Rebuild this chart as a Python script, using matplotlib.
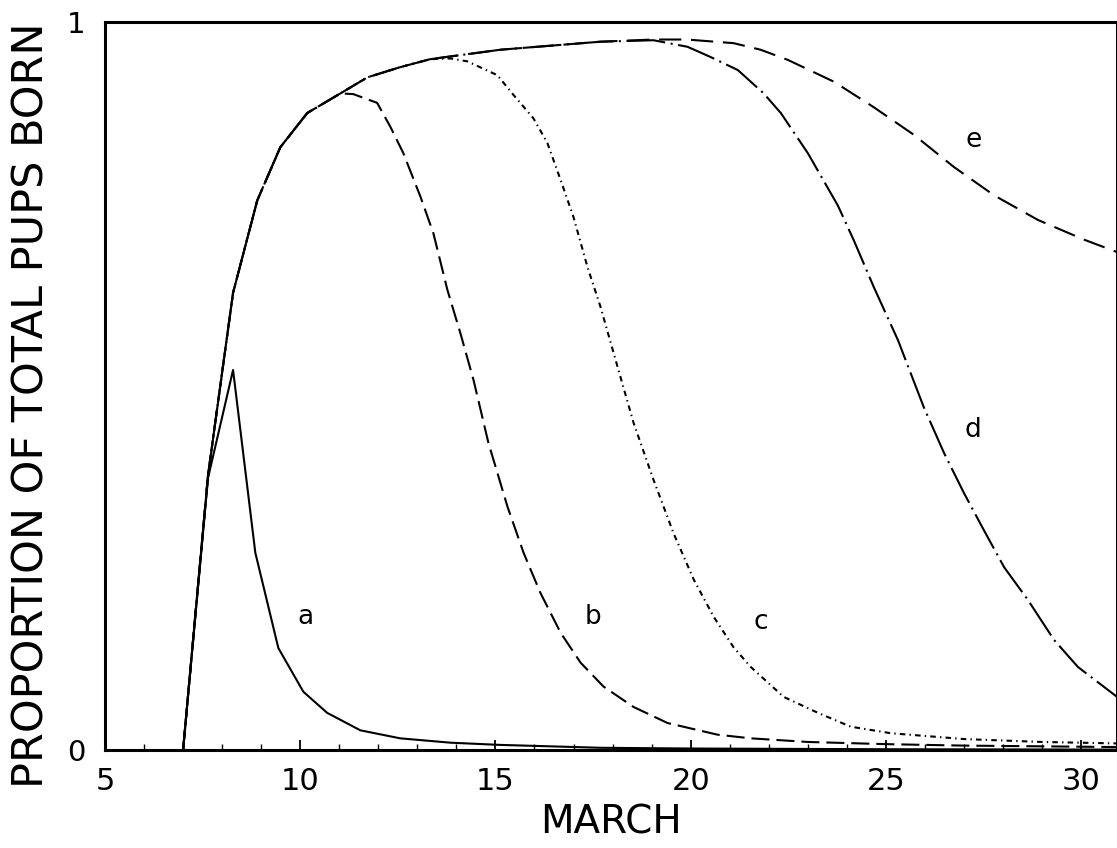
import matplotlib
matplotlib.use("Agg")
import matplotlib.pyplot as plt
from matplotlib.ticker import MultipleLocator, FixedLocator

plt.rcParams['lines.scale_dashes'] = False
plt.rcParams['font.family'] = ['DejaVu Sans']

# ---- data (day of March, proportion of total pups born) ----
a_x = [7.0, 7.64, 8.28, 8.85, 9.44, 10.08, 10.69, 11.54, 12.56, 13.85, 15.1, 17.7, 20.0, 25.0, 30.92]
a_y = [0.0, 0.374, 0.522, 0.271, 0.140, 0.080, 0.051, 0.027, 0.016, 0.010, 0.007, 0.003, 0.002, 0.001, 0.0005]

b_x = [7.00, 7.64, 8.28, 8.90, 9.49, 10.18, 11.03, 11.36, 11.97, 12.31, 12.64, 13.08, 13.41,
       13.77, 14.10, 14.44, 14.82, 15.31, 15.72, 16.15, 16.67, 17.18, 17.77, 18.54, 19.41,
       20.69, 21.54, 23.0, 25.0, 27.0, 29.0, 30.92]
b_y = [0.0, 0.378, 0.628, 0.755, 0.828, 0.875, 0.902, 0.901, 0.889, 0.856, 0.820, 0.760, 0.710,
       0.632, 0.573, 0.508, 0.422, 0.334, 0.271, 0.216, 0.161, 0.120, 0.087, 0.059, 0.037,
       0.021, 0.016, 0.011, 0.008, 0.006, 0.005, 0.004]

c_x = [7.00, 7.64, 8.28, 8.90, 9.49, 10.18, 11.03, 11.72, 12.56, 13.33, 13.85, 14.28, 15.05,
       15.46, 15.97, 16.33, 16.67, 17.00, 17.36, 17.69, 18.13, 18.54, 19.05, 19.56, 20.08,
       20.59, 21.10, 21.54, 22.38, 23.26, 24.10, 25.13, 27.0, 29.0, 30.92]
c_y = [0.0, 0.378, 0.628, 0.755, 0.828, 0.875, 0.902, 0.924, 0.938, 0.949, 0.950, 0.946, 0.927,
       0.900, 0.868, 0.834, 0.783, 0.732, 0.663, 0.609, 0.526, 0.449, 0.371, 0.298, 0.234,
       0.183, 0.141, 0.114, 0.073, 0.051, 0.032, 0.023, 0.015, 0.011, 0.009]

d_x = [7.00, 7.64, 8.28, 8.90, 9.49, 10.18, 11.03, 11.72, 12.56, 13.33, 15.13, 17.69, 19.05,
       19.92, 20.51, 21.21, 21.87, 22.31, 23.0, 23.77, 24.18, 24.69, 25.31, 25.97, 26.49,
       27.0, 27.51, 28.03, 28.64, 29.31, 29.92, 30.92]
d_y = [0.0, 0.378, 0.628, 0.755, 0.828, 0.875, 0.902, 0.924, 0.938, 0.949, 0.962, 0.973, 0.975,
       0.966, 0.952, 0.934, 0.902, 0.875, 0.820, 0.748, 0.700, 0.636, 0.563, 0.471, 0.408,
       0.353, 0.302, 0.251, 0.206, 0.151, 0.114, 0.073]

e_x = [7.00, 7.64, 8.28, 8.90, 9.49, 10.18, 11.03, 11.72, 12.56, 13.33, 15.13, 17.69, 19.05,
       19.9, 21.10, 21.79, 22.49, 23.67, 24.69, 25.72, 26.74, 27.77, 28.90, 30.08, 30.92]
e_y = [0.0, 0.378, 0.628, 0.755, 0.828, 0.875, 0.902, 0.924, 0.938, 0.949, 0.962, 0.973, 0.976,
       0.976, 0.971, 0.962, 0.948, 0.918, 0.883, 0.845, 0.801, 0.762, 0.728, 0.701, 0.684]

curve_labels = ['a', 'b', 'c', 'd', 'e']
label_x = [10.13, 17.49, 21.8, 27.23, 27.26]
label_y = [0.183, 0.183, 0.176, 0.44, 0.838]

x_ticks = [5, 10, 15, 20, 25, 30]
y_ticks = [0, 1]

# ---- figure ----
fig = plt.figure(figsize=(11.17, 8.48), dpi=100)
ax = fig.add_axes([0.094, 0.1156, 0.906, 0.8584])

lw = 1.5
ax.plot(a_x, a_y, color='black', lw=lw, linestyle='-')
ax.plot(b_x, b_y, color='black', lw=lw, linestyle=(0, (13, 5)))
ax.plot(c_x, c_y, color='black', lw=lw, linestyle=(0, (4, 3, 1, 3)))
ax.plot(d_x, d_y, color='black', lw=lw, linestyle=(0, (28, 4, 1.5, 4)))
ax.plot(e_x, e_y, color='black', lw=lw, linestyle=(0, (16, 7)))

for t, lx, ly in zip(curve_labels, label_x, label_y):
    ax.text(lx, ly, t, fontsize=19, ha='center', va='center', color='black')

ax.set_xlim(5, 30.92)
ax.set_ylim(0, 1)

ax.xaxis.set_major_locator(FixedLocator(x_ticks))
ax.xaxis.set_minor_locator(MultipleLocator(1))
ax.set_xticklabels([str(v) for v in x_ticks])
ax.yaxis.set_major_locator(FixedLocator(y_ticks))
ax.set_yticklabels([str(v) for v in y_ticks])

ax.tick_params(axis='x', which='major', direction='in', length=7, width=1.3,
               labelsize=22, pad=12, top=False)
ax.tick_params(axis='x', which='minor', direction='in', length=4, width=1.0, top=False)
ax.tick_params(axis='y', which='both', length=0, labelsize=21, pad=14)

for s in ax.spines.values():
    s.set_linewidth(2.2)
    s.set_color('black')

ax.set_xlabel('MARCH', fontsize=28, labelpad=6)
ax.set_ylabel('PROPORTION OF TOTAL PUPS BORN', fontsize=31)
ax.yaxis.set_label_coords(-0.052, 0.474)

fig.savefig('out.png', dpi=100, facecolor='white')
